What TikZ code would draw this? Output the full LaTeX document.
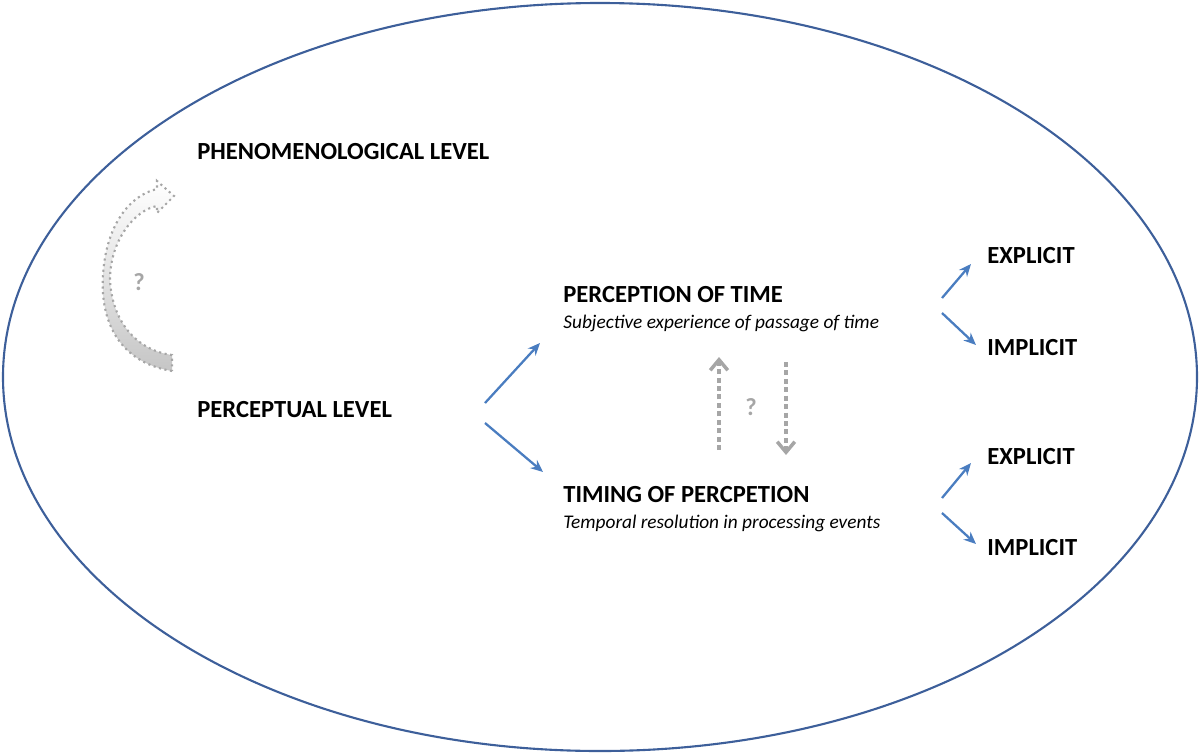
\documentclass[tikz,border=0pt]{standalone}
\usepackage{fontspec}
\setmainfont{Carlito}
\usetikzlibrary{arrows.meta}
\definecolor{ell}{HTML}{3D5F9A}
\definecolor{arr}{HTML}{4A7DC0}
\definecolor{gr}{HTML}{A6A6A6}
\begin{document}
\begin{tikzpicture}[x=0.02cm,y=-0.02cm,
  lab/.style={font=\bfseries\fontsize{14}{16}\selectfont,anchor=west,inner sep=0},
  sub/.style={font=\itshape\fontsize{11}{13}\selectfont,anchor=west,inner sep=0},
  barr/.style={draw=arr,line width=1.3pt,-{Stealth[length=7pt,width=6pt]}},
  darr/.style={draw=gr,line width=2.8pt,dotted,-{Straight Barb[length=6pt,width=10pt,line width=2pt]}}]
\useasboundingbox (0,0) rectangle (1200,754);
\draw[ell,line width=1.2pt] (600,377) ellipse [x radius=597, y radius=374];
\node[lab] (phen) at (197,152) {PHENOMENOLOGICAL LEVEL};
\node[lab] (perc) at (197,410) {PERCEPTUAL LEVEL};
\node[lab] (pot) at (563,295) {PERCEPTION OF TIME};
\node[sub] (pots) at (563,323) {Subjective experience of passage of time};
\node[lab] (top) at (563,495) {TIMING OF PERCPETION};
\node[sub] (tops) at (563,523) {Temporal resolution in processing events};
\node[lab] (e1) at (987,256) {EXPLICIT};
\node[lab] (i1) at (987,348) {IMPLICIT};
\node[lab] (e2) at (987,457) {EXPLICIT};
\node[lab] (i2) at (987,548) {IMPLICIT};
\coordinate (a1) at (485,403); \coordinate (a1e) at (540,343);
\coordinate (a2) at (485,423); \coordinate (a2e) at (543,472);
\draw[barr] (a1) -- (a1e);
\draw[barr] (a2) -- (a2e);
\coordinate (b1) at (942,298); \coordinate (b1e) at (971,264);
\coordinate (b2) at (942,313); \coordinate (b2e) at (976,345);
\coordinate (b3) at (942,498); \coordinate (b3e) at (971,463);
\coordinate (b4) at (942,513); \coordinate (b4e) at (976,544);
\draw[barr] (b1) -- (b1e); \draw[barr] (b2) -- (b2e);
\draw[barr] (b3) -- (b3e); \draw[barr] (b4) -- (b4e);
\coordinate (u1) at (719,450); \coordinate (u1e) at (719,357);
\coordinate (d1) at (786,362); \coordinate (d1e) at (786,455);
\draw[darr] (u1) -- (u1e);
\draw[darr] (d1) -- (d1e);
\node[font=\bfseries\fontsize{14}{16}\selectfont,text=gr] (q2) at (751,407) {?};
\shade[top color=white,bottom color=gray!45,draw=gr,line width=1.2pt,dotted]
 (172,371) .. controls (118,362) and (100,320) .. (103,275)
 .. controls (106,225) and (130,195) .. (157,189) -- (157,181) -- (174,196) -- (157,213) -- (157,206)
 .. controls (135,210) and (110,240) .. (110,280)
 .. controls (112,320) and (135,350) .. (172,355) -- cycle;
\node[font=\bfseries\fontsize{14}{16}\selectfont,text=gr] (q1) at (139,282) {?};
\end{tikzpicture}
\end{document}
